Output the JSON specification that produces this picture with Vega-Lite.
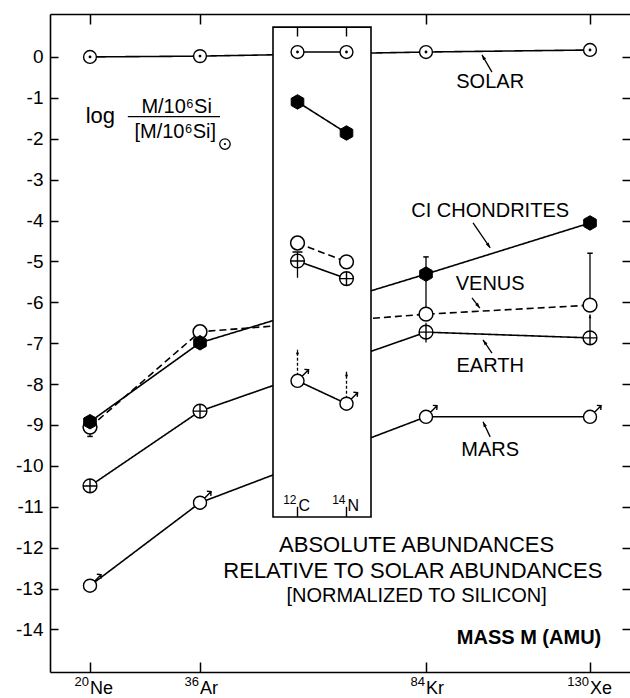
{
"$schema":"https://vega.github.io/schema/vega-lite/v6.json",
"width":581,"height":658,
"autosize":{"type":"none"},
"padding":{"left":50,"top":14,"right":0,"bottom":26},
"background":"white",
"config":{"view":{"stroke":null},"font":"Liberation Sans","text":{"font":"Liberation Sans","color":"black"},"axis":{"labelFont":"Liberation Sans","labelColor":"black","tickColor":"black","domainColor":"black","grid":false}},
"datasets":{
"main":[
{"series":"Solar","mass":20,"value":0},{"series":"Solar","mass":36,"value":0.02},{"series":"Solar","mass":84,"value":0.12},{"series":"Solar","mass":130,"value":0.17},
{"series":"CI","mass":20,"value":-8.92},{"series":"CI","mass":36,"value":-6.99},{"series":"CI","mass":84,"value":-5.31},{"series":"CI","mass":130,"value":-4.06},
{"series":"Venus","mass":20,"value":-9.05},{"series":"Venus","mass":36,"value":-6.72},{"series":"Venus","mass":84,"value":-6.29},{"series":"Venus","mass":130,"value":-6.07},
{"series":"Earth","mass":20,"value":-10.49},{"series":"Earth","mass":36,"value":-8.66},{"series":"Earth","mass":84,"value":-6.73},{"series":"Earth","mass":130,"value":-6.87},
{"series":"Mars","mass":20,"value":-12.93},{"series":"Mars","mass":36,"value":-10.9},{"series":"Mars","mass":84,"value":-8.8},{"series":"Mars","mass":130,"value":-8.8}
],
"inset":[
{"series":"Solar","mass":12,"value":0.12},{"series":"Solar","mass":14,"value":0.12},
{"series":"CI","mass":12,"value":-1.1},{"series":"CI","mass":14,"value":-1.86},
{"series":"Venus","mass":12,"value":-4.55},{"series":"Venus","mass":14,"value":-5.01},
{"series":"Earth","mass":12,"value":-4.99},{"series":"Earth","mass":14,"value":-5.42},
{"series":"Mars","mass":12,"value":-7.92},{"series":"Mars","mass":14,"value":-8.48}
],
"errmain":[
{"series":"Venus","mass":84,"lo":-6.29,"hi":-4.89},
{"series":"Venus","mass":130,"lo":-6.07,"hi":-4.8},
{"series":"Venus","mass":20,"lo":-9.28,"hi":-9.05},
{"series":"Earth","mass":84,"lo":-6.98,"hi":-6.5},
{"series":"Earth","mass":130,"lo":-6.87,"hi":-6.3}
],
"errinset":[
{"series":"Earth","mass":12,"lo":-5.4,"hi":-4.77},
{"series":"Mars","mass":12,"lo":-7.92,"hi":-7.16},
{"series":"Mars","mass":14,"lo":-8.48,"hi":-7.7}
],
"xlabels":[{"mass":20,"sup":"20","el":"Ne"},{"mass":36,"sup":"36","el":"Ar"},{"mass":84,"sup":"84","el":"Kr"},{"mass":130,"sup":"130","el":"Xe"}],
"elements":[{"mass":12,"sup":"12","el":"C"},{"mass":14,"sup":"14","el":"N"}]
},
"layer":[
{
"layer":[
{"data":{"name":"main"},"mark":{"type":"line","color":"black","strokeWidth":1.6},
"encoding":{
"x":{"field":"mass","type":"quantitative","scale":{"domain":[14.18,20,36,84,130,141.5],"range":[0,40,150,376,540,581],"zero":false,"nice":false},"axis":{"orient":"bottom","values":[20,36,84,130],"labels":false,"tickSize":-10,"tickWidth":1.5,"domainWidth":1.6,"title":null,"grid":false}},
"y":{"field":"value","type":"quantitative","scale":{"domain":[-15.04,1.05],"zero":false,"nice":false},"axis":{"orient":"left","values":[0,-1,-2,-3,-4,-5,-6,-7,-8,-9,-10,-11,-12,-13,-14],"labelExpr":"datum.value==0?'0':'-'+abs(datum.value)","tickSize":-8,"tickWidth":1.5,"domainWidth":1.6,"labelPadding":15,"labelFontSize":19,"labelFlush":false,"labelOverlap":false,"title":null,"grid":false}},
"strokeDash":{"field":"series","type":"nominal","scale":{"domain":["Solar","CI","Venus","Earth","Mars"],"range":[[1,0],[1,0],[7,4],[1,0],[1,0]]},"legend":null}
}},
{"data":{"name":"main"},"mark":{"type":"point","opacity":0},
"encoding":{
"x":{"field":"mass","type":"quantitative","axis":{"orient":"top","values":[20,36,84,130],"labels":false,"tickSize":-10,"tickWidth":1.5,"domainWidth":1.6,"title":null,"grid":false}},
"y":{"field":"value","type":"quantitative","axis":{"orient":"right","values":[0,-1,-2,-3,-4,-5,-6,-7,-8,-9,-10,-11,-12,-13,-14],"labels":false,"tickSize":-9,"tickWidth":1.5,"domainWidth":1.6,"title":null,"grid":false}}
}},
{"data":{"name":"xlabels"},"mark":{"type":"text","fontSize":13,"align":"right","baseline":"alphabetic","dx":-1},
"encoding":{"x":{"field":"mass","type":"quantitative","axis":null},"y":{"datum":-15.39,"axis":null},"text":{"field":"sup"}}},
{"data":{"name":"xlabels"},"mark":{"type":"text","fontSize":18,"align":"left","baseline":"alphabetic","dx":0},
"encoding":{"x":{"field":"mass","type":"quantitative","axis":null},"y":{"datum":-15.57,"axis":null},"text":{"field":"el"}}},
{"data":{"name":"errmain"},"mark":{"type":"rule","color":"black","strokeWidth":1.3},
"encoding":{"x":{"field":"mass","type":"quantitative","axis":null},"y":{"field":"lo","type":"quantitative","axis":null},"y2":{"field":"hi"}}},
{"data":{"name":"main"},"transform":[{"filter":"datum.series=='Venus'"}],"mark":{"type":"point","shape":"circle","size":190,"filled":true,"fill":"white","stroke":"black","strokeWidth":1.5,"opacity":1},
"encoding":{"x":{"field":"mass","type":"quantitative","axis":null},"y":{"field":"value","type":"quantitative","axis":null}}},
{"data":{"name":"main"},"transform":[{"filter":"datum.series=='CI'"}],"mark":{"type":"point","shape":"M0,-1L0.87,-0.5L0.87,0.5L0,1L-0.87,0.5L-0.87,-0.5Z","size":210,"filled":true,"fill":"black","stroke":"black","strokeWidth":1,"opacity":1},
"encoding":{"x":{"field":"mass","type":"quantitative","axis":null},"y":{"field":"value","type":"quantitative","axis":null}}},
{"data":{"name":"main"},"transform":[{"filter":"datum.series=='Earth'"}],"mark":{"type":"point","shape":"M-1,0A1,1,0,1,1,1,0A1,1,0,1,1,-1,0ZM-1,0L1,0M0,-1L0,1","size":190,"filled":true,"fill":"white","stroke":"black","strokeWidth":1.4,"opacity":1},
"encoding":{"x":{"field":"mass","type":"quantitative","axis":null},"y":{"field":"value","type":"quantitative","axis":null}}},
{"data":{"name":"main"},"transform":[{"filter":"datum.series=='Mars'"}],"mark":{"type":"point","shape":"M-1,0A1,1,0,1,1,1,0A1,1,0,1,1,-1,0ZM0.7,-0.7L1.7,-1.7M1.05,-1.75L1.7,-1.7L1.65,-1.05","size":170,"filled":true,"fill":"white","stroke":"black","strokeWidth":1.4,"opacity":1},
"encoding":{"x":{"field":"mass","type":"quantitative","axis":null},"y":{"field":"value","type":"quantitative","axis":null}}},
{"data":{"name":"main"},"transform":[{"filter":"datum.series=='Solar'"}],"mark":{"type":"point","shape":"circle","size":165,"filled":true,"fill":"white","stroke":"black","strokeWidth":1.4,"opacity":1},
"encoding":{"x":{"field":"mass","type":"quantitative","axis":null},"y":{"field":"value","type":"quantitative","axis":null}}},
{"data":{"name":"main"},"transform":[{"filter":"datum.series=='Solar'"}],"mark":{"type":"point","shape":"circle","size":8,"filled":true,"fill":"black","opacity":1},
"encoding":{"x":{"field":"mass","type":"quantitative","axis":null},"y":{"field":"value","type":"quantitative","axis":null}}},
{"data":{"name":"errmain"},"transform":[{"filter":"datum.series=='Venus' && datum.mass>50"}],"mark":{"type":"point","shape":"M-1,0L1,0","size":30,"stroke":"black","strokeWidth":1.5,"opacity":1},
"encoding":{"x":{"field":"mass","type":"quantitative","axis":null},"y":{"field":"hi","type":"quantitative","axis":null}}},
{"data":{"name":"errmain"},"transform":[{"filter":"datum.series=='Venus' && datum.mass<30"}],"mark":{"type":"point","shape":"M-1,0L1,0","size":30,"stroke":"black","strokeWidth":1.5,"opacity":1},
"encoding":{"x":{"field":"mass","type":"quantitative","axis":null},"y":{"field":"lo","type":"quantitative","axis":null}}},
{"data":{"name":"errmain"},"transform":[{"filter":"datum.series=='Earth' && datum.mass>100"}],"mark":{"type":"point","shape":"M0,0L-0.5,1.5L0.5,1.5Z","size":25,"filled":true,"fill":"black","opacity":1},
"encoding":{"x":{"field":"mass","type":"quantitative","axis":null},"y":{"field":"hi","type":"quantitative","axis":null}}},
{"data":{"values":[{}]},"mark":{"type":"text","text":"SOLAR","fontSize":20,"align":"center","baseline":"middle"},"encoding":{"x":{"datum":102,"axis":null},"y":{"datum":-0.61,"axis":null}}},
{"data":{"values":[{}]},"mark":{"type":"text","text":"CI CHONDRITES","fontSize":20,"align":"center","baseline":"middle"},"encoding":{"x":{"datum":102,"axis":null},"y":{"datum":-3.77,"axis":null}}},
{"data":{"values":[{}]},"mark":{"type":"text","text":"VENUS","fontSize":20,"align":"center","baseline":"middle"},"encoding":{"x":{"datum":102,"axis":null},"y":{"datum":-5.56,"axis":null}}},
{"data":{"values":[{}]},"mark":{"type":"text","text":"EARTH","fontSize":20,"align":"center","baseline":"middle"},"encoding":{"x":{"datum":102,"axis":null},"y":{"datum":-7.55,"axis":null}}},
{"data":{"values":[{}]},"mark":{"type":"text","text":"MARS","fontSize":20,"align":"center","baseline":"middle"},"encoding":{"x":{"datum":102,"axis":null},"y":{"datum":-9.6,"axis":null}}},
{"data":{"values":[{}]},"mark":{"type":"text","text":"ABSOLUTE ABUNDANCES","fontSize":22,"align":"center","baseline":"middle"},"encoding":{"x":{"datum":82,"axis":null},"y":{"datum":-11.94,"axis":null}}},
{"data":{"values":[{}]},"mark":{"type":"text","text":"RELATIVE TO SOLAR ABUNDANCES","fontSize":22,"align":"center","baseline":"middle"},"encoding":{"x":{"datum":81.2,"axis":null},"y":{"datum":-12.56,"axis":null}}},
{"data":{"values":[{}]},"mark":{"type":"text","text":"[NORMALIZED TO SILICON]","fontSize":20,"align":"center","baseline":"middle"},"encoding":{"x":{"datum":82,"axis":null},"y":{"datum":-13.19,"axis":null}}},
{"data":{"values":[{}]},"mark":{"type":"text","text":"MASS  M  (AMU)","fontSize":20,"fontWeight":"bold","align":"center","baseline":"middle"},"encoding":{"x":{"datum":112.9,"axis":null},"y":{"datum":-14.22,"axis":null}}},
{"data":{"values":[{}]},"mark":{"type":"text","text":"log","fontSize":22,"align":"center","baseline":"alphabetic"},"encoding":{"x":{"datum":21.5,"axis":null},"y":{"datum":-1.61,"axis":null}}},
{"data":{"values":[{}]},"mark":{"type":"text","text":"M/10⁶Si","fontSize":20,"align":"center","baseline":"alphabetic"},"encoding":{"x":{"datum":32.6,"axis":null},"y":{"datum":-1.37,"axis":null}}},
{"data":{"values":[{}]},"mark":{"type":"rule","color":"black","strokeWidth":1.4},"encoding":{"x":{"datum":25.5,"axis":null},"x2":{"datum":40.25},"y":{"datum":-1.46,"axis":null}}},
{"data":{"values":[{}]},"mark":{"type":"text","text":"[M/10⁶Si]","fontSize":20,"align":"center","baseline":"alphabetic"},"encoding":{"x":{"datum":32.4,"axis":null},"y":{"datum":-1.98,"axis":null}}},
{"data":{"values":[{}]},"mark":{"type":"point","shape":"circle","size":110,"filled":false,"stroke":"black","strokeWidth":1.3,"opacity":1},"encoding":{"x":{"datum":41.3,"axis":null},"y":{"datum":-2.13,"axis":null}}},
{"data":{"values":[{}]},"mark":{"type":"point","shape":"circle","size":5,"filled":true,"fill":"black","opacity":1},"encoding":{"x":{"datum":41.3,"axis":null},"y":{"datum":-2.13,"axis":null}}},
{"data":{"values":[{}]},"mark":{"type":"rule","color":"black","strokeWidth":1.3},"encoding":{"x":{"datum":102.5,"axis":null},"y":{"datum":-0.37,"axis":null},"x2":{"datum":99.7},"y2":{"datum":0.05}}},
{"data":{"values":[{}]},"mark":{"type":"point","shape":"M0,0L-0.5,1.5L0.5,1.5Z","size":49,"filled":true,"fill":"black","angle":-30,"opacity":1},"encoding":{"x":{"datum":99.7,"axis":null},"y":{"datum":0.05,"axis":null}}},
{"data":{"values":[{}]},"mark":{"type":"rule","color":"black","strokeWidth":1.3},"encoding":{"x":{"datum":97.2,"axis":null},"y":{"datum":-4.06,"axis":null},"x2":{"datum":102},"y2":{"datum":-4.67}}},
{"data":{"values":[{}]},"mark":{"type":"point","shape":"M0,0L-0.5,1.5L0.5,1.5Z","size":49,"filled":true,"fill":"black","angle":146,"opacity":1},"encoding":{"x":{"datum":102,"axis":null},"y":{"datum":-4.67,"axis":null}}},
{"data":{"values":[{}]},"mark":{"type":"rule","color":"black","strokeWidth":1.3},"encoding":{"x":{"datum":96.9,"axis":null},"y":{"datum":-5.89,"axis":null},"x2":{"datum":99.1},"y2":{"datum":-6.14}}},
{"data":{"values":[{}]},"mark":{"type":"point","shape":"M0,0L-0.5,1.5L0.5,1.5Z","size":49,"filled":true,"fill":"black","angle":141,"opacity":1},"encoding":{"x":{"datum":99.1,"axis":null},"y":{"datum":-6.14,"axis":null}}},
{"data":{"values":[{}]},"mark":{"type":"rule","color":"black","strokeWidth":1.3},"encoding":{"x":{"datum":102.5,"axis":null},"y":{"datum":-7.24,"axis":null},"x2":{"datum":100},"y2":{"datum":-6.92}}},
{"data":{"values":[{}]},"mark":{"type":"point","shape":"M0,0L-0.5,1.5L0.5,1.5Z","size":49,"filled":true,"fill":"black","angle":-35,"opacity":1},"encoding":{"x":{"datum":100,"axis":null},"y":{"datum":-6.92,"axis":null}}},
{"data":{"values":[{}]},"mark":{"type":"rule","color":"black","strokeWidth":1.3},"encoding":{"x":{"datum":102,"axis":null},"y":{"datum":-9.29,"axis":null},"x2":{"datum":100},"y2":{"datum":-8.92}}},
{"data":{"values":[{}]},"mark":{"type":"point","shape":"M0,0L-0.5,1.5L0.5,1.5Z","size":49,"filled":true,"fill":"black","angle":-25,"opacity":1},"encoding":{"x":{"datum":100,"axis":null},"y":{"datum":-8.92,"axis":null}}}
],
"resolve":{"axis":{"x":"independent","y":"independent"}}
},
{
"layer":[
{"data":{"values":[{}]},"mark":{"type":"rect","fill":"white","stroke":"black","strokeWidth":1.6},
"encoding":{"x":{"datum":11,"scale":{"domain":[11,15],"range":[223,321],"zero":false,"nice":false},"axis":null},"x2":{"datum":15},"y":{"datum":0.73,"axis":null},"y2":{"datum":-11.25}}},
{"data":{"name":"elements"},"mark":{"type":"rule","color":"black","strokeWidth":1.4},
"encoding":{"x":{"field":"mass","type":"quantitative","axis":null},"y":{"datum":0.73,"axis":null},"y2":{"datum":0.5}}},
{"data":{"name":"elements"},"mark":{"type":"rule","color":"black","strokeWidth":1.4},
"encoding":{"x":{"field":"mass","type":"quantitative","axis":null},"y":{"datum":-11.25,"axis":null},"y2":{"datum":-11.0}}},
{"data":{"name":"elements"},"mark":{"type":"text","fontSize":12,"align":"right","baseline":"alphabetic","dx":-1},
"encoding":{"x":{"field":"mass","type":"quantitative","axis":null},"y":{"datum":-10.93,"axis":null},"text":{"field":"sup"}}},
{"data":{"name":"elements"},"mark":{"type":"text","fontSize":16,"align":"left","baseline":"alphabetic","dx":1},
"encoding":{"x":{"field":"mass","type":"quantitative","axis":null},"y":{"datum":-11.1,"axis":null},"text":{"field":"el"}}},
{"data":{"name":"inset"},"mark":{"type":"line","color":"black","strokeWidth":1.6},
"encoding":{"x":{"field":"mass","type":"quantitative","axis":null},"y":{"field":"value","type":"quantitative","axis":null},
"strokeDash":{"field":"series","type":"nominal","scale":{"domain":["Solar","CI","Venus","Earth","Mars"],"range":[[1,0],[1,0],[7,4],[1,0],[1,0]]},"legend":null}}},
{"data":{"name":"errinset"},"transform":[{"filter":"datum.series=='Earth'"}],"mark":{"type":"rule","color":"black","strokeWidth":1.3},
"encoding":{"x":{"field":"mass","type":"quantitative","axis":null},"y":{"field":"lo","type":"quantitative","axis":null},"y2":{"field":"hi"}}},
{"data":{"name":"errinset"},"transform":[{"filter":"datum.series=='Mars'"}],"mark":{"type":"rule","color":"black","strokeWidth":1.3,"strokeDash":[3,2]},
"encoding":{"x":{"field":"mass","type":"quantitative","axis":null},"y":{"field":"lo","type":"quantitative","axis":null},"y2":{"field":"hi"}}},
{"data":{"name":"errinset"},"transform":[{"filter":"datum.series=='Earth'"}],"mark":{"type":"point","shape":"M-1,0L1,0","size":100,"stroke":"black","strokeWidth":1.5,"opacity":1},
"encoding":{"x":{"field":"mass","type":"quantitative","axis":null},"y":{"field":"hi","type":"quantitative","axis":null}}},
{"data":{"name":"errinset"},"transform":[{"filter":"datum.series=='Mars'"}],"mark":{"type":"point","shape":"M0,0L-0.5,1.5L0.5,1.5Z","size":36,"filled":true,"fill":"black","opacity":1},
"encoding":{"x":{"field":"mass","type":"quantitative","axis":null},"y":{"field":"hi","type":"quantitative","axis":null}}},
{"data":{"name":"inset"},"transform":[{"filter":"datum.series=='Venus'"}],"mark":{"type":"point","shape":"circle","size":190,"filled":true,"fill":"white","stroke":"black","strokeWidth":1.5,"opacity":1},
"encoding":{"x":{"field":"mass","type":"quantitative","axis":null},"y":{"field":"value","type":"quantitative","axis":null}}},
{"data":{"name":"inset"},"transform":[{"filter":"datum.series=='CI'"}],"mark":{"type":"point","shape":"M0,-1L0.87,-0.5L0.87,0.5L0,1L-0.87,0.5L-0.87,-0.5Z","size":210,"filled":true,"fill":"black","stroke":"black","strokeWidth":1,"opacity":1},
"encoding":{"x":{"field":"mass","type":"quantitative","axis":null},"y":{"field":"value","type":"quantitative","axis":null}}},
{"data":{"name":"inset"},"transform":[{"filter":"datum.series=='Earth'"}],"mark":{"type":"point","shape":"M-1,0A1,1,0,1,1,1,0A1,1,0,1,1,-1,0ZM-1,0L1,0M0,-1L0,1","size":190,"filled":true,"fill":"white","stroke":"black","strokeWidth":1.4,"opacity":1},
"encoding":{"x":{"field":"mass","type":"quantitative","axis":null},"y":{"field":"value","type":"quantitative","axis":null}}},
{"data":{"name":"inset"},"transform":[{"filter":"datum.series=='Mars'"}],"mark":{"type":"point","shape":"M-1,0A1,1,0,1,1,1,0A1,1,0,1,1,-1,0ZM0.7,-0.7L1.7,-1.7M1.05,-1.75L1.7,-1.7L1.65,-1.05","size":170,"filled":true,"fill":"white","stroke":"black","strokeWidth":1.4,"opacity":1},
"encoding":{"x":{"field":"mass","type":"quantitative","axis":null},"y":{"field":"value","type":"quantitative","axis":null}}},
{"data":{"name":"inset"},"transform":[{"filter":"datum.series=='Solar'"}],"mark":{"type":"point","shape":"circle","size":165,"filled":true,"fill":"white","stroke":"black","strokeWidth":1.4,"opacity":1},
"encoding":{"x":{"field":"mass","type":"quantitative","axis":null},"y":{"field":"value","type":"quantitative","axis":null}}},
{"data":{"name":"inset"},"transform":[{"filter":"datum.series=='Solar'"}],"mark":{"type":"point","shape":"circle","size":8,"filled":true,"fill":"black","opacity":1},
"encoding":{"x":{"field":"mass","type":"quantitative","axis":null},"y":{"field":"value","type":"quantitative","axis":null}}}
]
}
],
"resolve":{"scale":{"x":"independent"},"axis":{"x":"independent","y":"independent"}}
}
